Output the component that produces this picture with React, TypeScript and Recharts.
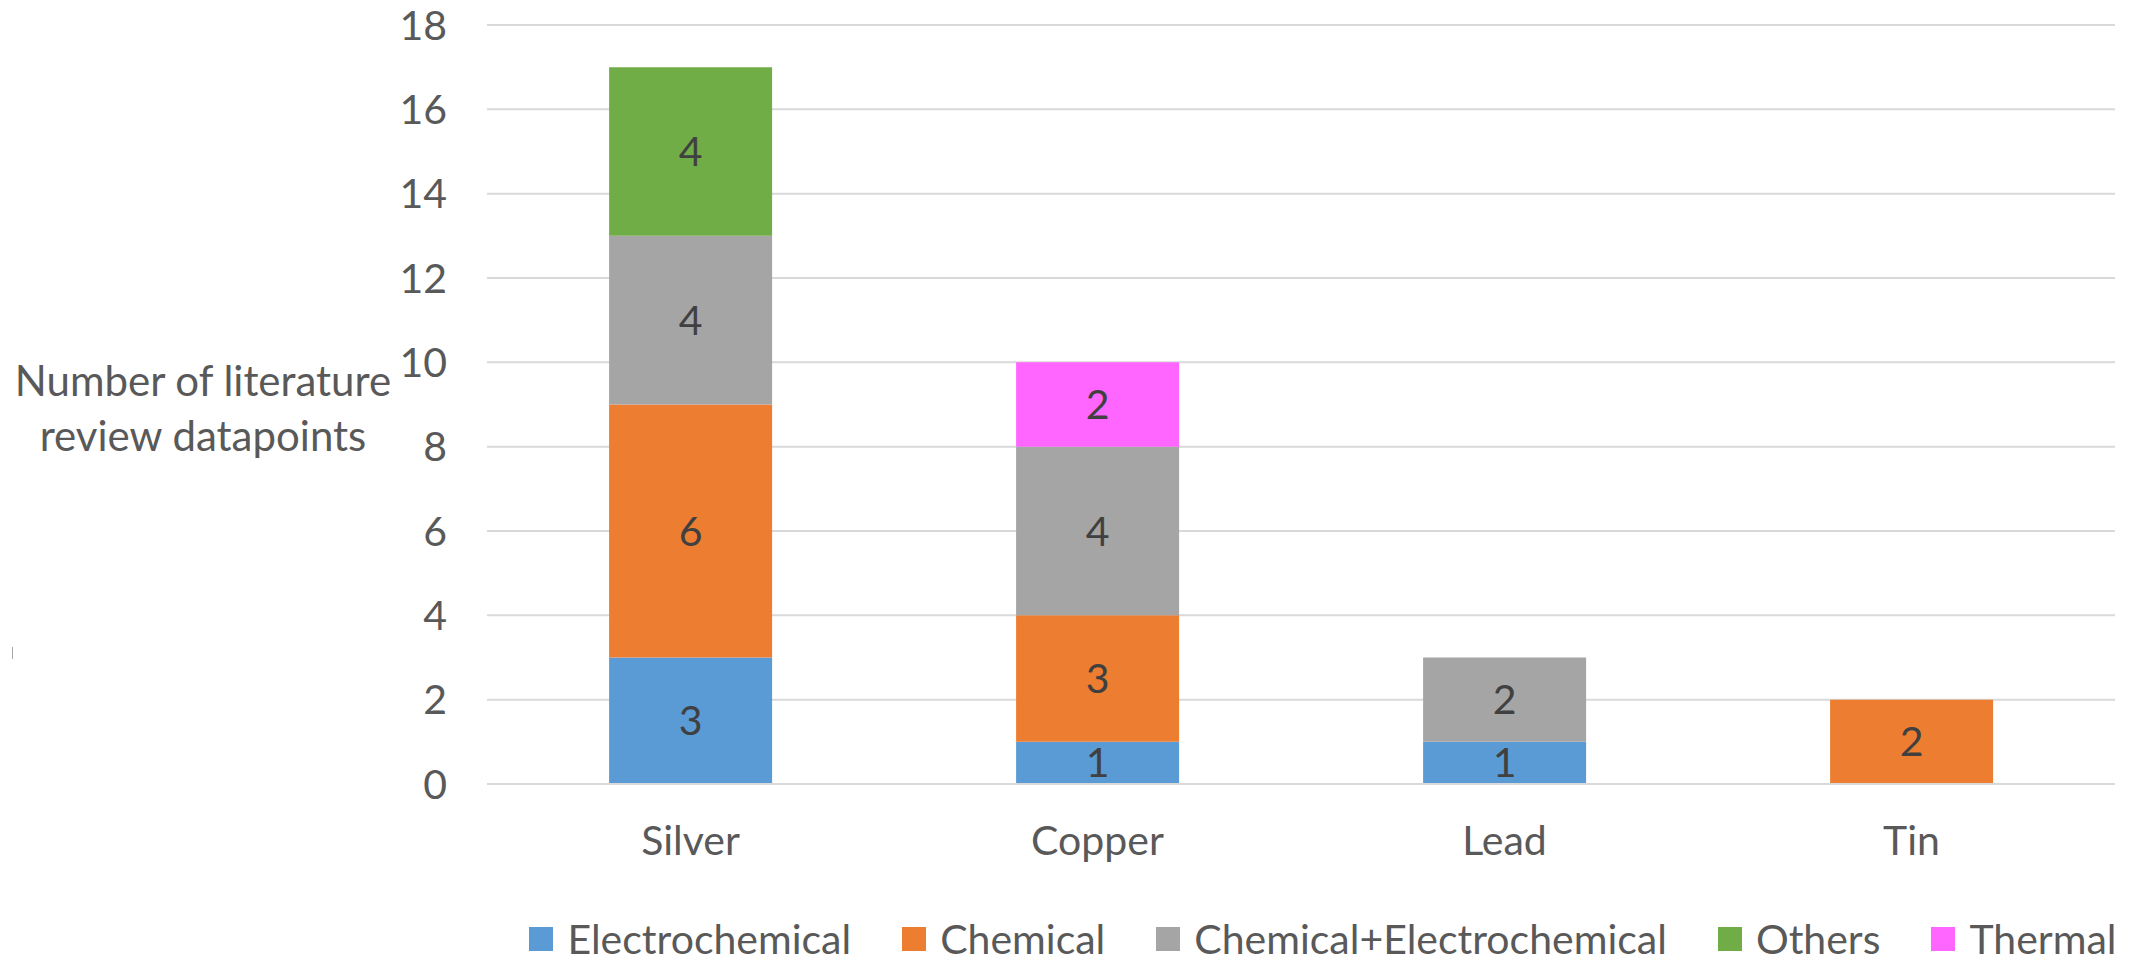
import React from 'react';
import { BarChart, Bar, XAxis, YAxis, CartesianGrid, Legend, LabelList } from 'recharts';

const categories = ['Silver', 'Copper', 'Lead', 'Tin'];
const electrochemical = [3, 1, 1, 0];
const chemical = [6, 3, 0, 2];
const chemicalElectrochemical = [4, 4, 2, 0];
const others = [4, 0, 0, 0];
const thermal = [0, 2, 0, 0];
const yTicks = [0, 2, 4, 6, 8, 10, 12, 14, 16, 18];
const titleLines = ['Number of literature', 'review datapoints'];

const series = [
  { key: 'electrochemical', name: 'Electrochemical', color: '#5B9BD5', values: electrochemical },
  { key: 'chemical', name: 'Chemical', color: '#ED7D31', values: chemical },
  { key: 'chemElectro', name: 'Chemical+Electrochemical', color: '#A5A5A5', values: chemicalElectrochemical },
  { key: 'others', name: 'Others', color: '#70AD47', values: others },
  { key: 'thermal', name: 'Thermal', color: '#FF66FF', values: thermal },
];

const data = categories.map((c, i) => {
  const row: Record<string, string | number> = { category: c };
  series.forEach((s) => {
    row[s.key] = s.values[i];
  });
  return row;
});

const FONT = 'Lato, "Open Sans", sans-serif';
const TEXT = '#595959';
const FS = 41;

const renderTitle = (props: any) => {
  const vb = props.viewBox || {};
  const cy = (vb.y || 0) + (vb.height || 0) / 2 + 3;
  return (
    <text x={203} y={cy} textAnchor="middle" fill={TEXT} fontSize={42} fontFamily={FONT}>
      <tspan x={203} y={cy - 27.5} dominantBaseline="central">{titleLines[0]}</tspan>
      <tspan x={203} y={cy + 27.5} dominantBaseline="central">{titleLines[1]}</tspan>
    </text>
  );
};

const renderLegend = (props: any) => {
  const payload = [...(props.payload || [])].sort(
    (a: any, b: any) =>
      series.findIndex((s) => s.name === a.value) - series.findIndex((s) => s.name === b.value)
  );
  return (
    <div style={{ display: 'flex', justifyContent: 'center', alignItems: 'center', fontFamily: FONT, fontSize: FS, color: TEXT }}>
      {payload.map((p: any, i: number) => (
        <div key={i} style={{ display: 'flex', alignItems: 'center', marginLeft: i === 0 ? 0 : 51 }}>
          <div style={{ width: 24, height: 24, background: p.color, marginRight: 14 }} />
          <span style={{ lineHeight: '40px' }}>{p.value}</span>
        </div>
      ))}
    </div>
  );
};

const fmt = (v: any) => (v === 0 ? '' : v);

export default function App() {
  return (
    <div style={{ position: 'absolute', left: 0, top: 0, width: 2133, height: 962, background: '#fff' }}>
      <div style={{ position: 'absolute', left: 12, top: 647, width: 1, height: 12, background: '#A6A6A6' }} />
      <BarChart
        width={2133}
        height={962}
        data={data}
        margin={{ top: 25, right: 18, left: 0, bottom: 118 }}
        barCategoryGap="30%"
      >
        <CartesianGrid vertical={false} stroke="#D9D9D9" strokeWidth={2} />
        <XAxis
          dataKey="category"
          height={60}
          tickLine={false}
          tickSize={0}
          tickMargin={42}
          axisLine={{ stroke: '#D9D9D9', strokeWidth: 2 }}
          tick={{ fill: TEXT, fontSize: FS, fontFamily: FONT }}
        />
        <YAxis
          width={487}
          domain={[0, 18]}
          ticks={yTicks}
          interval={0}
          axisLine={false}
          tickLine={false}
          tickSize={0}
          tickMargin={40}
          tick={{ fill: TEXT, fontSize: FS, fontFamily: FONT }}
          label={{ content: renderTitle }}
        />
        <Legend
          layout="horizontal"
          verticalAlign="middle"
          align="center"
          content={renderLegend}
          wrapperStyle={{ top: 919, left: 323, width: 2000, height: 40 }}
        />
        {series.map((s) => (
          <Bar key={s.key} dataKey={s.key} name={s.name} stackId="a" fill={s.color} isAnimationActive={false}>
            <LabelList dataKey={s.key} position="center" formatter={fmt} fill="#404040" fontSize={FS} fontFamily={FONT} />
          </Bar>
        ))}
      </BarChart>
    </div>
  );
}
